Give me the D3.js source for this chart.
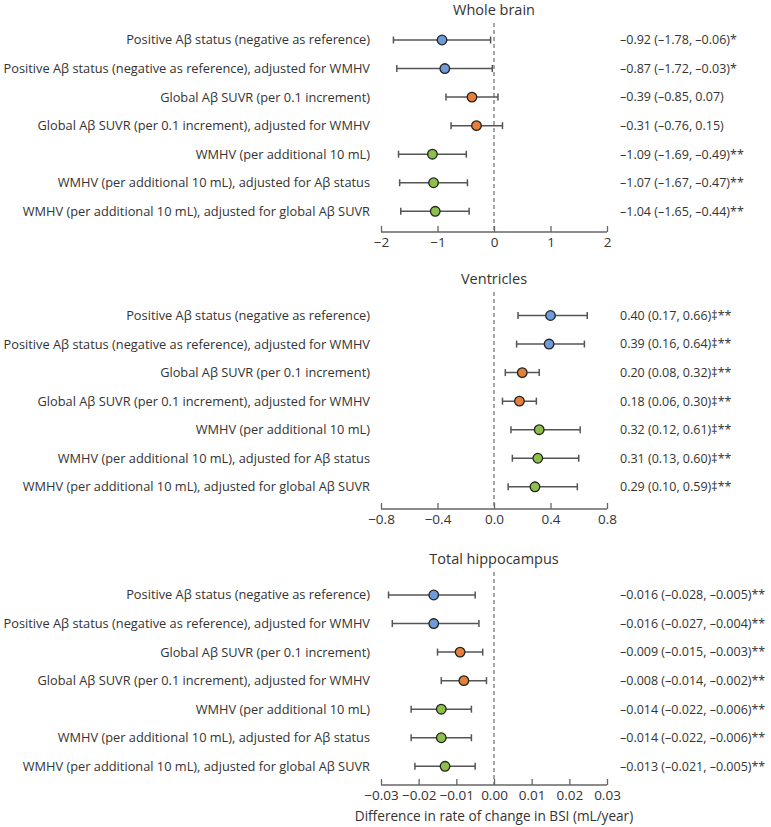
<!DOCTYPE html>
<html><head><meta charset="utf-8">
<script src="https://cdn.jsdelivr.net/npm/d3@7"></script>
<style>
body{margin:0;background:#fff;}
text{font-family:"Open Sans",sans-serif;fill:#333;}
</style></head>
<body><svg id="c" width="771" height="827"></svg>
<script>
const rowLabels = [
  "Positive Aβ status (negative as reference)",
  "Positive Aβ status (negative as reference), adjusted for WMHV",
  "Global Aβ SUVR (per 0.1 increment)",
  "Global Aβ SUVR (per 0.1 increment), adjusted for WMHV",
  "WMHV (per additional 10 mL)",
  "WMHV (per additional 10 mL), adjusted for Aβ status",
  "WMHV (per additional 10 mL), adjusted for global Aβ SUVR"
];
const rowGroup = ["amyloid","amyloid","suvr","suvr","wmhv","wmhv","wmhv"];
const panelTitles = ["Whole brain","Ventricles","Total hippocampus"];

const wholeEst = [-0.92,-0.87,-0.39,-0.31,-1.09,-1.07,-1.04];
const wholeLo  = [-1.78,-1.72,-0.85,-0.76,-1.69,-1.67,-1.65];
const wholeHi  = [-0.06,-0.03,0.07,0.15,-0.49,-0.47,-0.44];
const wholeSig = ["*","*","","","**","**","**"];
const wholeTicks = [-2,-1,0,1,2];

const ventEst = [0.40,0.39,0.20,0.18,0.32,0.31,0.29];
const ventLo  = [0.17,0.16,0.08,0.06,0.12,0.13,0.10];
const ventHi  = [0.66,0.64,0.32,0.30,0.61,0.60,0.59];
const ventSig = ["‡**","‡**","‡**","‡**","‡**","‡**","‡**"];
const ventTicks = [-0.8,-0.4,0,0.4,0.8];

const hipEst = [-0.016,-0.016,-0.009,-0.008,-0.014,-0.014,-0.013];
const hipLo  = [-0.028,-0.027,-0.015,-0.014,-0.022,-0.022,-0.021];
const hipHi  = [-0.005,-0.004,-0.003,-0.002,-0.006,-0.006,-0.005];
const hipSig = ["**","**","**","**","**","**","**"];
const hipTicks = [-0.03,-0.02,-0.01,0,0.01,0.02,0.03];

const xTitle = "Difference in rate of change in BSI (mL/year)";

const colors = {amyloid:"#6f9bd9", suvr:"#e4803a", wmhv:"#8dbf4b"};

const panels = [
  {title:panelTitles[0], est:wholeEst, lo:wholeLo, hi:wholeHi, sig:wholeSig, ticks:wholeTicks, dec:2, tdec:0,
   titleY:9, row1:40, axisY:232},
  {title:panelTitles[1], est:ventEst, lo:ventLo, hi:ventHi, sig:ventSig, ticks:ventTicks, dec:2, tdec:1,
   titleY:278, row1:315.5, axisY:509},
  {title:panelTitles[2], est:hipEst, lo:hipLo, hi:hipHi, sig:hipSig, ticks:hipTicks, dec:3, tdec:2,
   titleY:558, row1:595, axisY:785}
];

const svg = d3.select("#c");
const X0 = 381, X1 = 607, labelX = 370, valX = 620, rowStep = 28.55;
const fmt = (v,d) => (v<0?"\u2013":"") + Math.abs(v).toFixed(d);
const tfmt = (v,d) => (v<0?"\u2212":"") + Math.abs(v).toFixed(d);

panels.forEach(p => {
  const ext = d3.extent(p.ticks);
  const x = d3.scaleLinear().domain(ext).range([X0, X1]);
  const y = d3.scaleLinear().domain([0,1]).range([p.row1, p.row1 + rowStep]);
  const g = svg.append("g");

  g.append("text").attr("x", x(0)).attr("y", p.titleY).attr("dy","0.38em")
    .attr("text-anchor","middle").style("font-size","14.5px").text(p.title);

  g.append("line").attr("x1", x(0)).attr("x2", x(0))
    .attr("y1", p.titleY + 14).attr("y2", p.axisY)
    .attr("stroke","#777").attr("stroke-width",1.3).attr("stroke-dasharray","4,3");

  const axis = d3.axisBottom(x).tickValues(p.ticks).tickSize(-6).tickPadding(5)
    .tickFormat(d => tfmt(d, p.tdec));
  const ag = g.append("g").attr("transform", `translate(0,${p.axisY})`).call(axis);
  ag.select(".domain").attr("stroke","#666").attr("stroke-width",1.3).attr("d", `M${X0},0H${X1}`);
  ag.selectAll(".tick line").attr("stroke","#666").attr("stroke-width",1.3);
  ag.selectAll(".tick text").style("font-size","13.5px").style("font-family","'Open Sans',sans-serif").attr("fill","#333");

  rowLabels.forEach((lab, i) => {
    const yy = y(i);
    g.append("text").attr("x", labelX).attr("y", yy).attr("dy","0.35em")
      .attr("text-anchor","end").style("font-size","12.8px").text(lab);
    g.append("line").attr("x1", x(p.lo[i])).attr("x2", x(p.hi[i]))
      .attr("y1", yy).attr("y2", yy).attr("stroke","#555").attr("stroke-width",1.5);
    [p.lo[i], p.hi[i]].forEach(v => {
      g.append("line").attr("x1", x(v)).attr("x2", x(v))
        .attr("y1", yy-3.5).attr("y2", yy+3.5).attr("stroke","#555").attr("stroke-width",1.5);
    });
    g.append("circle").attr("cx", x(p.est[i])).attr("cy", yy).attr("r", 4.8)
      .attr("fill", colors[rowGroup[i]]).attr("stroke","#222").attr("stroke-width",1.3);
    g.append("text").attr("x", valX).attr("y", yy).attr("dy","0.35em")
      .style("font-size","12.5px")
      .text(`${fmt(p.est[i],p.dec)} (${fmt(p.lo[i],p.dec)}, ${fmt(p.hi[i],p.dec)})${p.sig[i]}`);
  });
});

svg.append("text").attr("x", 494).attr("y", 816).attr("dy","0.35em")
  .attr("text-anchor","middle").style("font-size","13.6px").text(xTitle);
</script></body></html>
